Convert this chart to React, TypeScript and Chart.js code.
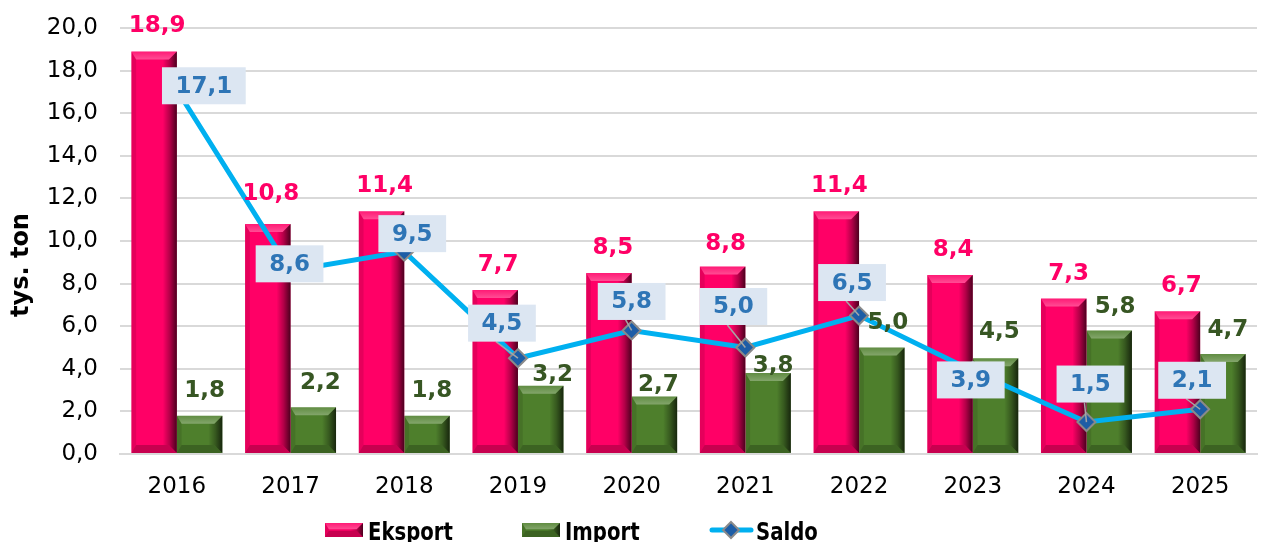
import React, { useEffect, useRef } from 'react';
import { Chart, registerables } from 'chart.js';

Chart.register(...registerables);

const years = ['2016', '2017', '2018', '2019', '2020', '2021', '2022', '2023', '2024', '2025'];
const eksport = [18.9, 10.8, 11.4, 7.7, 8.5, 8.8, 11.4, 8.4, 7.3, 6.7];
const importValues = [1.8, 2.2, 1.8, 3.2, 2.7, 3.8, 5.0, 4.5, 5.8, 4.7];
const saldo = [17.1, 8.6, 9.5, 4.5, 5.8, 5.0, 6.5, 3.9, 1.5, 2.1];
const seriesNames = ['Eksport', 'Import', 'Saldo'];
const yTitle = 'tys. ton';

// label placement tweaks (pixels), as in the reference
const eksportLabelDx = [3, 3, 3, 3, 4, 3, 3, 3, 5, 4];
const eksportLabelLift = [25, 30, 25, 25, 25, 23, 25, 25, 24, 25];
const importLabelDx = [5, 7, 5, 12, 4, 5, 6, 4, 6, 5];
const importLabelLift = [25, 24, 25, 11, 11, 7, 24, 26, 23, 24];
const saldoLabelDx = [27, -1, 8, -16, 0, -12, -7, -2, 4, -8];
const saldoLabelDy = [-4, -7, -18, -35, -29, -41, -33, 9, -38, -29];

const FONT = '"DejaVu Sans", Verdana, sans-serif';
const PINK = '#FF0066';
const GREEN = '#4E7F2C';
const GREEN_TEXT = '#375623';
const LINE = '#00B0F0';
const BOX_BG = '#DCE6F2';
const BOX_TEXT = '#2E75B6';
const MARKER = '#1D5DA6';

const fmt = (v: number) => v.toFixed(1).replace('.', ',');

function poly(ctx: CanvasRenderingContext2D, pts: number[][], fill: any) {
  ctx.beginPath();
  ctx.moveTo(pts[0][0], pts[0][1]);
  for (let i = 1; i < pts.length; i++) ctx.lineTo(pts[i][0], pts[i][1]);
  ctx.closePath();
  ctx.fillStyle = fill;
  ctx.fill();
}

function bevel(ctx: CanvasRenderingContext2D, l: number, t: number, r: number, b: number) {
  const w = r - l;
  const h = b - t;
  const e = Math.min(8, w / 4, h / 2.2);
  ctx.save();
  // right facet
  const gr = ctx.createLinearGradient(r - e - 6, 0, r, 0);
  gr.addColorStop(0, 'rgba(0,0,0,0)');
  gr.addColorStop(0.5, 'rgba(0,0,0,0.3)');
  gr.addColorStop(1, 'rgba(0,0,0,0.7)');
  poly(ctx, [[r - e - 6, t + e], [r - e, t + e], [r, t], [r, b], [r - e, b - e], [r - e - 6, b - e]], gr);
  // left facet
  poly(ctx, [[l, t], [l + e * 0.6, t + e], [l + e * 0.6, b - e], [l, b]], 'rgba(0,0,0,0.1)');
  // top facet
  const gt = ctx.createLinearGradient(0, t, 0, t + e);
  gt.addColorStop(0, 'rgba(255,255,255,0.1)');
  gt.addColorStop(1, 'rgba(255,255,255,0.3)');
  poly(ctx, [[l, t], [r, t], [r - e, t + e], [l + e * 0.6, t + e]], gt);
  // bottom facet
  poly(ctx, [[l, b], [l + e * 0.6, b - e], [r - e, b - e], [r, b]], 'rgba(0,0,0,0.22)');
  ctx.restore();
}

const bevelPlugin = {
  id: 'bevelBars',
  afterDatasetDraw(chart: any, args: any) {
    const ds = chart.data.datasets[args.index];
    if (ds.type !== 'bar') return;
    const ctx = chart.ctx;
    const meta = chart.getDatasetMeta(args.index);
    meta.data.forEach((el: any) => {
      const p = el.getProps(['x', 'y', 'base', 'width'], true);
      bevel(ctx, p.x - p.width / 2, p.y, p.x + p.width / 2, p.base);
    });
  },
};

const labelPlugin = {
  id: 'valueLabels',
  afterDatasetsDraw(chart: any) {
    const ctx: CanvasRenderingContext2D = chart.ctx;
    ctx.save();
    ctx.font = `bold 23px ${FONT}`;
    ctx.textAlign = 'center';
    ctx.textBaseline = 'middle';
    // eksport
    const m0 = chart.getDatasetMeta(0);
    m0.data.forEach((el: any, i: number) => {
      ctx.fillStyle = PINK;
      ctx.fillText(fmt(eksport[i]), el.x + eksportLabelDx[i], el.y - eksportLabelLift[i]);
    });
    // import
    const m1 = chart.getDatasetMeta(1);
    m1.data.forEach((el: any, i: number) => {
      ctx.fillStyle = GREEN_TEXT;
      ctx.fillText(fmt(importValues[i]), el.x + importLabelDx[i], el.y - importLabelLift[i]);
    });
    // saldo boxes
    const m2 = chart.getDatasetMeta(2);
    m2.data.forEach((el: any, i: number) => {
      const txt = fmt(saldo[i]);
      const tw = ctx.measureText(txt).width;
      const bw = tw + 27;
      const bh = 37;
      const cx = el.x + saldoLabelDx[i];
      const cy = el.y + saldoLabelDy[i];
      const bl = cx - bw / 2;
      const bt = cy - bh / 2;
      // leader line
      const qx = Math.max(bl, Math.min(bl + bw, el.x));
      const qy = Math.max(bt, Math.min(bt + bh, el.y));
      if (Math.hypot(qx - el.x, qy - el.y) > 6) {
        ctx.beginPath();
        ctx.strokeStyle = '#A6A6A6';
        ctx.lineWidth = 1.5;
        ctx.moveTo(el.x, el.y);
        ctx.lineTo(cx - 6, bt + bh);
        ctx.stroke();
      }
      ctx.fillStyle = BOX_BG;
      ctx.fillRect(bl, bt, bw, bh);
      ctx.fillStyle = BOX_TEXT;
      ctx.fillText(txt, cx, cy + 1);
    });
    ctx.restore();
  },
  afterDraw(chart: any) {
    const ctx: CanvasRenderingContext2D = chart.ctx;
    ctx.save();
    // y title
    ctx.translate(22, 265);
    ctx.rotate(-Math.PI / 2);
    ctx.font = `bold 24px ${FONT}`;
    ctx.fillStyle = '#000';
    ctx.textAlign = 'center';
    ctx.textBaseline = 'middle';
    ctx.fillText(yTitle, 0, 0);
    ctx.restore();

    // legend
    ctx.save();
    const ly = 530;
    const drawText = (txt: string, x: number) => {
      ctx.save();
      ctx.translate(x, 540);
      ctx.scale(0.82, 1);
      ctx.font = `bold 24px ${FONT}`;
      ctx.fillStyle = '#000';
      ctx.textAlign = 'left';
      ctx.textBaseline = 'alphabetic';
      ctx.fillText(txt, 0, 0);
      ctx.restore();
    };
    ctx.fillStyle = PINK;
    ctx.fillRect(325, 523, 38, 14);
    bevel(ctx, 325, 523, 363, 537);
    drawText(seriesNames[0], 368);
    ctx.fillStyle = GREEN;
    ctx.fillRect(522, 523, 38, 14);
    bevel(ctx, 522, 523, 560, 537);
    drawText(seriesNames[1], 565);
    ctx.beginPath();
    ctx.strokeStyle = LINE;
    ctx.lineWidth = 5;
    ctx.lineCap = 'round';
    ctx.moveTo(712, ly);
    ctx.lineTo(751, ly);
    ctx.stroke();
    ctx.beginPath();
    ctx.moveTo(731, ly - 8);
    ctx.lineTo(739, ly);
    ctx.lineTo(731, ly + 8);
    ctx.lineTo(723, ly);
    ctx.closePath();
    ctx.fillStyle = MARKER;
    ctx.fill();
    ctx.strokeStyle = '#8A8A8A';
    ctx.lineWidth = 2;
    ctx.stroke();
    drawText(seriesNames[2], 756);
    ctx.restore();
  },
};

export default function App() {
  const ref = useRef<HTMLCanvasElement>(null);
  useEffect(() => {
    if (!ref.current) return;
    const chart = new Chart(ref.current, {
      type: 'bar',
      data: {
        labels: years,
        datasets: [
          {
            type: 'bar',
            label: seriesNames[0],
            data: eksport,
            backgroundColor: PINK,
            categoryPercentage: 0.8,
            barPercentage: 1.0,
            order: 1,
          },
          {
            type: 'bar',
            label: seriesNames[1],
            data: importValues,
            backgroundColor: GREEN,
            categoryPercentage: 0.8,
            barPercentage: 1.0,
            order: 2,
          },
          {
            type: 'line',
            label: seriesNames[2],
            data: saldo,
            borderColor: LINE,
            borderWidth: 5,
            pointStyle: 'rectRot',
            pointRadius: 9,
            pointBackgroundColor: MARKER,
            pointBorderColor: '#8A8A8A',
            pointBorderWidth: 2,
            tension: 0,
            order: 0,
          } as any,
        ],
      },
      options: {
        responsive: false,
        animation: false,
        layout: { padding: { top: 28, left: 0, right: 0, bottom: 0 } },
        plugins: {
          legend: { display: false },
          tooltip: { enabled: false },
          title: { display: false },
        },
        scales: {
          x: {
            grid: { display: false },
            border: { display: true, color: '#D9D9D9', width: 2 },
            ticks: { font: { family: FONT, size: 23 }, color: '#000', padding: 11 },
            afterFit: (s: any) => { s.height = 88; s.paddingLeft = 0; s.paddingRight = 0; },
          },
          y: {
            min: 0,
            max: 20,
            ticks: {
              stepSize: 2,
              callback: (v: any) => fmt(Number(v)),
              font: { family: FONT, size: 23 },
              color: '#000',
              padding: 22,
            },
            grid: { color: '#D9D9D9', lineWidth: 2, drawTicks: false },
            border: { display: false },
            afterFit: (s: any) => { s.width = 120; s.paddingTop = 0; s.paddingBottom = 0; },
          },
        },
      },
      plugins: [bevelPlugin, labelPlugin],
    });
    return () => chart.destroy();
  }, []);
  return (
    <div style={{ position: 'fixed', left: 0, top: 0, width: 1268, height: 542, background: '#fff' }}>
      <canvas ref={ref} width={1268} height={542} style={{ display: 'block' }} />
    </div>
  );
}
